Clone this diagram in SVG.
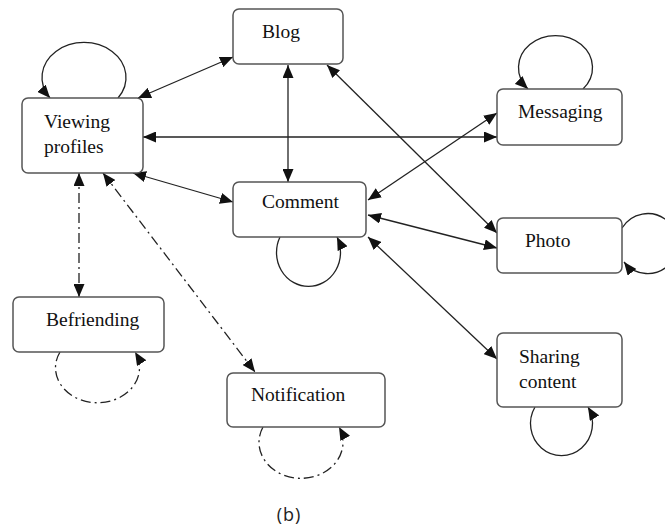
<svg xmlns="http://www.w3.org/2000/svg" width="665" height="528" viewBox="0 0 665 528">
<defs>
<marker id="ah" viewBox="0 0 13 11" refX="13" refY="5.5" markerWidth="13" markerHeight="11" markerUnits="userSpaceOnUse" orient="auto-start-reverse">
<path d="M0,0 L13,5.5 L0,11 z" fill="#111"/>
</marker>
<style>
.box{fill:#fff;stroke:#555;stroke-width:1.5}
.lbl{font-family:"Liberation Serif","Times New Roman",serif;font-size:19.5px;fill:#111}
.e{fill:none;stroke:#222;stroke-width:1.3}
.dd{stroke-dasharray:10 4 2 4}
.two{marker-start:url(#ah);marker-end:url(#ah)}
.one{marker-end:url(#ah)}
</style>
</defs>
<rect width="665" height="528" fill="#fff"/>
<g id="connectors">
<line class="e two" x1="138" y1="98" x2="233" y2="57"/>
<line class="e two" x1="288" y1="65" x2="288" y2="182"/>
<line class="e two" x1="143" y1="137" x2="497" y2="137"/>
<line class="e two" x1="133" y1="173" x2="233" y2="202"/>
<line class="e two" x1="327" y1="65" x2="497" y2="233"/>
<line class="e two" x1="368" y1="200" x2="497" y2="113"/>
<line class="e two" x1="368" y1="215" x2="497" y2="248"/>
<line class="e two" x1="368" y1="237" x2="497" y2="359"/>
<line class="e two dd" x1="79" y1="173" x2="79" y2="297"/>
<line class="e two dd" x1="103" y1="173" x2="255" y2="372"/>
<path class="e one" d="M118,98 A42,35 0 1 0 50,98"/>
<path class="e one" d="M583,89 A37,32 0 1 0 528,89"/>
<path class="e one" d="M280,237 A32,34 0 1 0 337,237"/>
<path class="e one" d="M535,407 A31,32 0 1 0 588,407"/>
<path class="e one" d="M622,228 A30,30 0 1 1 624,262"/>
<path class="e one dd" d="M60,352 A42,35 0 1 0 135,352"/>
<path class="e one dd" d="M263,427 A42,36 0 1 0 339,427"/>
</g>
<g id="blog"><rect class="box" x="233" y="9" width="110" height="55" rx="6"/><text class="lbl" x="262" y="38">Blog</text></g>
<g id="viewing"><rect class="box" x="22" y="98" width="121" height="75" rx="6"/><text class="lbl" x="44" y="128">Viewing</text><text class="lbl" x="44" y="153">profiles</text></g>
<g id="comment"><rect class="box" x="233" y="182" width="133" height="55" rx="6"/><text class="lbl" x="262" y="208">Comment</text></g>
<g id="messaging"><rect class="box" x="497" y="89" width="125" height="56" rx="6"/><text class="lbl" x="518" y="118">Messaging</text></g>
<g id="photo"><rect class="box" x="497" y="218" width="125" height="55" rx="6"/><text class="lbl" x="525" y="247">Photo</text></g>
<g id="sharing"><rect class="box" x="497" y="333" width="125" height="74" rx="6"/><text class="lbl" x="519" y="363">Sharing</text><text class="lbl" x="519" y="388">content</text></g>
<g id="befriending"><rect class="box" x="13" y="297" width="151" height="55" rx="6"/><text class="lbl" x="46" y="326">Befriending</text></g>
<g id="notification"><rect class="box" x="227" y="373" width="158" height="54" rx="6"/><text class="lbl" x="251" y="401">Notification</text></g>
<text x="289" y="521" text-anchor="middle" font-family="'Open Sans','Liberation Sans',sans-serif" font-size="18" letter-spacing="1" fill="#222">(b)</text>
</svg>
